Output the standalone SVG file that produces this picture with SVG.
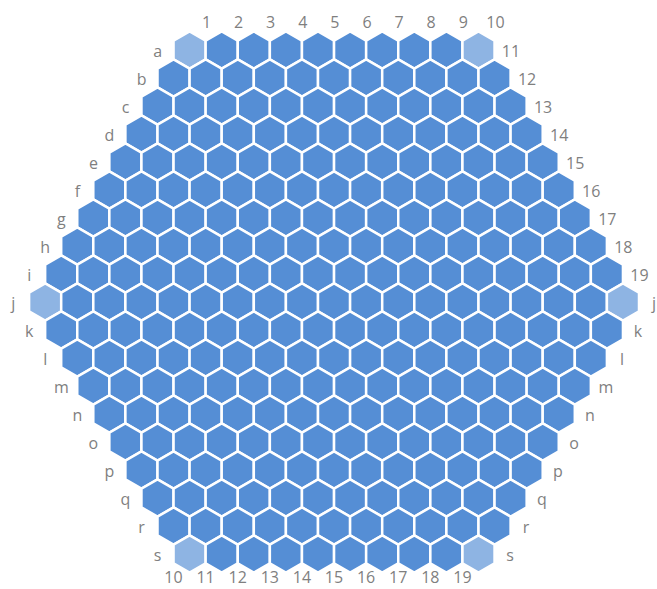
<svg xmlns="http://www.w3.org/2000/svg" width="657" height="589" viewBox="0 0 657 589">
<style>
.h{fill:#558ED5;stroke:#fff;stroke-width:2.5}
.c{fill:#8EB4E3}
text{font-family:"Open Sans","Liberation Sans",Arial,sans-serif;font-size:16px;fill:#7F7F7F;text-anchor:middle}
</style>
<defs><path id="h" d="M0,-18.67L16.05,-9.33L16.05,9.33L0,18.67L-16.05,9.33L-16.05,-9.33Z"/></defs>
<rect width="657" height="589" fill="#fff"/>
<g id="board">
<g id="row-a" transform="translate(189.6,50)"><use id="a1" class="h c" href="#h" x="0"/><use id="a2" class="h" href="#h" x="32.1"/><use id="a3" class="h" href="#h" x="64.2"/><use id="a4" class="h" href="#h" x="96.3"/><use id="a5" class="h" href="#h" x="128.4"/><use id="a6" class="h" href="#h" x="160.5"/><use id="a7" class="h" href="#h" x="192.6"/><use id="a8" class="h" href="#h" x="224.7"/><use id="a9" class="h" href="#h" x="256.8"/><use id="a10" class="h c" href="#h" x="288.9"/></g>
<g id="row-b" transform="translate(173.55,78)"><use id="b1" class="h" href="#h" x="0"/><use id="b2" class="h" href="#h" x="32.1"/><use id="b3" class="h" href="#h" x="64.2"/><use id="b4" class="h" href="#h" x="96.3"/><use id="b5" class="h" href="#h" x="128.4"/><use id="b6" class="h" href="#h" x="160.5"/><use id="b7" class="h" href="#h" x="192.6"/><use id="b8" class="h" href="#h" x="224.7"/><use id="b9" class="h" href="#h" x="256.8"/><use id="b10" class="h" href="#h" x="288.9"/><use id="b11" class="h" href="#h" x="321"/></g>
<g id="row-c" transform="translate(157.5,106)"><use id="c1" class="h" href="#h" x="0"/><use id="c2" class="h" href="#h" x="32.1"/><use id="c3" class="h" href="#h" x="64.2"/><use id="c4" class="h" href="#h" x="96.3"/><use id="c5" class="h" href="#h" x="128.4"/><use id="c6" class="h" href="#h" x="160.5"/><use id="c7" class="h" href="#h" x="192.6"/><use id="c8" class="h" href="#h" x="224.7"/><use id="c9" class="h" href="#h" x="256.8"/><use id="c10" class="h" href="#h" x="288.9"/><use id="c11" class="h" href="#h" x="321"/><use id="c12" class="h" href="#h" x="353.1"/></g>
<g id="row-d" transform="translate(141.45,134)"><use id="d1" class="h" href="#h" x="0"/><use id="d2" class="h" href="#h" x="32.1"/><use id="d3" class="h" href="#h" x="64.2"/><use id="d4" class="h" href="#h" x="96.3"/><use id="d5" class="h" href="#h" x="128.4"/><use id="d6" class="h" href="#h" x="160.5"/><use id="d7" class="h" href="#h" x="192.6"/><use id="d8" class="h" href="#h" x="224.7"/><use id="d9" class="h" href="#h" x="256.8"/><use id="d10" class="h" href="#h" x="288.9"/><use id="d11" class="h" href="#h" x="321"/><use id="d12" class="h" href="#h" x="353.1"/><use id="d13" class="h" href="#h" x="385.2"/></g>
<g id="row-e" transform="translate(125.4,162)"><use id="e1" class="h" href="#h" x="0"/><use id="e2" class="h" href="#h" x="32.1"/><use id="e3" class="h" href="#h" x="64.2"/><use id="e4" class="h" href="#h" x="96.3"/><use id="e5" class="h" href="#h" x="128.4"/><use id="e6" class="h" href="#h" x="160.5"/><use id="e7" class="h" href="#h" x="192.6"/><use id="e8" class="h" href="#h" x="224.7"/><use id="e9" class="h" href="#h" x="256.8"/><use id="e10" class="h" href="#h" x="288.9"/><use id="e11" class="h" href="#h" x="321"/><use id="e12" class="h" href="#h" x="353.1"/><use id="e13" class="h" href="#h" x="385.2"/><use id="e14" class="h" href="#h" x="417.3"/></g>
<g id="row-f" transform="translate(109.35,190)"><use id="f1" class="h" href="#h" x="0"/><use id="f2" class="h" href="#h" x="32.1"/><use id="f3" class="h" href="#h" x="64.2"/><use id="f4" class="h" href="#h" x="96.3"/><use id="f5" class="h" href="#h" x="128.4"/><use id="f6" class="h" href="#h" x="160.5"/><use id="f7" class="h" href="#h" x="192.6"/><use id="f8" class="h" href="#h" x="224.7"/><use id="f9" class="h" href="#h" x="256.8"/><use id="f10" class="h" href="#h" x="288.9"/><use id="f11" class="h" href="#h" x="321"/><use id="f12" class="h" href="#h" x="353.1"/><use id="f13" class="h" href="#h" x="385.2"/><use id="f14" class="h" href="#h" x="417.3"/><use id="f15" class="h" href="#h" x="449.4"/></g>
<g id="row-g" transform="translate(93.3,218)"><use id="g1" class="h" href="#h" x="0"/><use id="g2" class="h" href="#h" x="32.1"/><use id="g3" class="h" href="#h" x="64.2"/><use id="g4" class="h" href="#h" x="96.3"/><use id="g5" class="h" href="#h" x="128.4"/><use id="g6" class="h" href="#h" x="160.5"/><use id="g7" class="h" href="#h" x="192.6"/><use id="g8" class="h" href="#h" x="224.7"/><use id="g9" class="h" href="#h" x="256.8"/><use id="g10" class="h" href="#h" x="288.9"/><use id="g11" class="h" href="#h" x="321"/><use id="g12" class="h" href="#h" x="353.1"/><use id="g13" class="h" href="#h" x="385.2"/><use id="g14" class="h" href="#h" x="417.3"/><use id="g15" class="h" href="#h" x="449.4"/><use id="g16" class="h" href="#h" x="481.5"/></g>
<g id="row-h" transform="translate(77.25,246)"><use id="h1" class="h" href="#h" x="0"/><use id="h2" class="h" href="#h" x="32.1"/><use id="h3" class="h" href="#h" x="64.2"/><use id="h4" class="h" href="#h" x="96.3"/><use id="h5" class="h" href="#h" x="128.4"/><use id="h6" class="h" href="#h" x="160.5"/><use id="h7" class="h" href="#h" x="192.6"/><use id="h8" class="h" href="#h" x="224.7"/><use id="h9" class="h" href="#h" x="256.8"/><use id="h10" class="h" href="#h" x="288.9"/><use id="h11" class="h" href="#h" x="321"/><use id="h12" class="h" href="#h" x="353.1"/><use id="h13" class="h" href="#h" x="385.2"/><use id="h14" class="h" href="#h" x="417.3"/><use id="h15" class="h" href="#h" x="449.4"/><use id="h16" class="h" href="#h" x="481.5"/><use id="h17" class="h" href="#h" x="513.6"/></g>
<g id="row-i" transform="translate(61.2,274)"><use id="i1" class="h" href="#h" x="0"/><use id="i2" class="h" href="#h" x="32.1"/><use id="i3" class="h" href="#h" x="64.2"/><use id="i4" class="h" href="#h" x="96.3"/><use id="i5" class="h" href="#h" x="128.4"/><use id="i6" class="h" href="#h" x="160.5"/><use id="i7" class="h" href="#h" x="192.6"/><use id="i8" class="h" href="#h" x="224.7"/><use id="i9" class="h" href="#h" x="256.8"/><use id="i10" class="h" href="#h" x="288.9"/><use id="i11" class="h" href="#h" x="321"/><use id="i12" class="h" href="#h" x="353.1"/><use id="i13" class="h" href="#h" x="385.2"/><use id="i14" class="h" href="#h" x="417.3"/><use id="i15" class="h" href="#h" x="449.4"/><use id="i16" class="h" href="#h" x="481.5"/><use id="i17" class="h" href="#h" x="513.6"/><use id="i18" class="h" href="#h" x="545.7"/></g>
<g id="row-j" transform="translate(45.15,302)"><use id="j1" class="h c" href="#h" x="0"/><use id="j2" class="h" href="#h" x="32.1"/><use id="j3" class="h" href="#h" x="64.2"/><use id="j4" class="h" href="#h" x="96.3"/><use id="j5" class="h" href="#h" x="128.4"/><use id="j6" class="h" href="#h" x="160.5"/><use id="j7" class="h" href="#h" x="192.6"/><use id="j8" class="h" href="#h" x="224.7"/><use id="j9" class="h" href="#h" x="256.8"/><use id="j10" class="h" href="#h" x="288.9"/><use id="j11" class="h" href="#h" x="321"/><use id="j12" class="h" href="#h" x="353.1"/><use id="j13" class="h" href="#h" x="385.2"/><use id="j14" class="h" href="#h" x="417.3"/><use id="j15" class="h" href="#h" x="449.4"/><use id="j16" class="h" href="#h" x="481.5"/><use id="j17" class="h" href="#h" x="513.6"/><use id="j18" class="h" href="#h" x="545.7"/><use id="j19" class="h c" href="#h" x="577.8"/></g>
<g id="row-k" transform="translate(61.2,330)"><use id="k2" class="h" href="#h" x="0"/><use id="k3" class="h" href="#h" x="32.1"/><use id="k4" class="h" href="#h" x="64.2"/><use id="k5" class="h" href="#h" x="96.3"/><use id="k6" class="h" href="#h" x="128.4"/><use id="k7" class="h" href="#h" x="160.5"/><use id="k8" class="h" href="#h" x="192.6"/><use id="k9" class="h" href="#h" x="224.7"/><use id="k10" class="h" href="#h" x="256.8"/><use id="k11" class="h" href="#h" x="288.9"/><use id="k12" class="h" href="#h" x="321"/><use id="k13" class="h" href="#h" x="353.1"/><use id="k14" class="h" href="#h" x="385.2"/><use id="k15" class="h" href="#h" x="417.3"/><use id="k16" class="h" href="#h" x="449.4"/><use id="k17" class="h" href="#h" x="481.5"/><use id="k18" class="h" href="#h" x="513.6"/><use id="k19" class="h" href="#h" x="545.7"/></g>
<g id="row-l" transform="translate(77.25,358)"><use id="l3" class="h" href="#h" x="0"/><use id="l4" class="h" href="#h" x="32.1"/><use id="l5" class="h" href="#h" x="64.2"/><use id="l6" class="h" href="#h" x="96.3"/><use id="l7" class="h" href="#h" x="128.4"/><use id="l8" class="h" href="#h" x="160.5"/><use id="l9" class="h" href="#h" x="192.6"/><use id="l10" class="h" href="#h" x="224.7"/><use id="l11" class="h" href="#h" x="256.8"/><use id="l12" class="h" href="#h" x="288.9"/><use id="l13" class="h" href="#h" x="321"/><use id="l14" class="h" href="#h" x="353.1"/><use id="l15" class="h" href="#h" x="385.2"/><use id="l16" class="h" href="#h" x="417.3"/><use id="l17" class="h" href="#h" x="449.4"/><use id="l18" class="h" href="#h" x="481.5"/><use id="l19" class="h" href="#h" x="513.6"/></g>
<g id="row-m" transform="translate(93.3,386)"><use id="m4" class="h" href="#h" x="0"/><use id="m5" class="h" href="#h" x="32.1"/><use id="m6" class="h" href="#h" x="64.2"/><use id="m7" class="h" href="#h" x="96.3"/><use id="m8" class="h" href="#h" x="128.4"/><use id="m9" class="h" href="#h" x="160.5"/><use id="m10" class="h" href="#h" x="192.6"/><use id="m11" class="h" href="#h" x="224.7"/><use id="m12" class="h" href="#h" x="256.8"/><use id="m13" class="h" href="#h" x="288.9"/><use id="m14" class="h" href="#h" x="321"/><use id="m15" class="h" href="#h" x="353.1"/><use id="m16" class="h" href="#h" x="385.2"/><use id="m17" class="h" href="#h" x="417.3"/><use id="m18" class="h" href="#h" x="449.4"/><use id="m19" class="h" href="#h" x="481.5"/></g>
<g id="row-n" transform="translate(109.35,414)"><use id="n5" class="h" href="#h" x="0"/><use id="n6" class="h" href="#h" x="32.1"/><use id="n7" class="h" href="#h" x="64.2"/><use id="n8" class="h" href="#h" x="96.3"/><use id="n9" class="h" href="#h" x="128.4"/><use id="n10" class="h" href="#h" x="160.5"/><use id="n11" class="h" href="#h" x="192.6"/><use id="n12" class="h" href="#h" x="224.7"/><use id="n13" class="h" href="#h" x="256.8"/><use id="n14" class="h" href="#h" x="288.9"/><use id="n15" class="h" href="#h" x="321"/><use id="n16" class="h" href="#h" x="353.1"/><use id="n17" class="h" href="#h" x="385.2"/><use id="n18" class="h" href="#h" x="417.3"/><use id="n19" class="h" href="#h" x="449.4"/></g>
<g id="row-o" transform="translate(125.4,442)"><use id="o6" class="h" href="#h" x="0"/><use id="o7" class="h" href="#h" x="32.1"/><use id="o8" class="h" href="#h" x="64.2"/><use id="o9" class="h" href="#h" x="96.3"/><use id="o10" class="h" href="#h" x="128.4"/><use id="o11" class="h" href="#h" x="160.5"/><use id="o12" class="h" href="#h" x="192.6"/><use id="o13" class="h" href="#h" x="224.7"/><use id="o14" class="h" href="#h" x="256.8"/><use id="o15" class="h" href="#h" x="288.9"/><use id="o16" class="h" href="#h" x="321"/><use id="o17" class="h" href="#h" x="353.1"/><use id="o18" class="h" href="#h" x="385.2"/><use id="o19" class="h" href="#h" x="417.3"/></g>
<g id="row-p" transform="translate(141.45,470)"><use id="p7" class="h" href="#h" x="0"/><use id="p8" class="h" href="#h" x="32.1"/><use id="p9" class="h" href="#h" x="64.2"/><use id="p10" class="h" href="#h" x="96.3"/><use id="p11" class="h" href="#h" x="128.4"/><use id="p12" class="h" href="#h" x="160.5"/><use id="p13" class="h" href="#h" x="192.6"/><use id="p14" class="h" href="#h" x="224.7"/><use id="p15" class="h" href="#h" x="256.8"/><use id="p16" class="h" href="#h" x="288.9"/><use id="p17" class="h" href="#h" x="321"/><use id="p18" class="h" href="#h" x="353.1"/><use id="p19" class="h" href="#h" x="385.2"/></g>
<g id="row-q" transform="translate(157.5,498)"><use id="q8" class="h" href="#h" x="0"/><use id="q9" class="h" href="#h" x="32.1"/><use id="q10" class="h" href="#h" x="64.2"/><use id="q11" class="h" href="#h" x="96.3"/><use id="q12" class="h" href="#h" x="128.4"/><use id="q13" class="h" href="#h" x="160.5"/><use id="q14" class="h" href="#h" x="192.6"/><use id="q15" class="h" href="#h" x="224.7"/><use id="q16" class="h" href="#h" x="256.8"/><use id="q17" class="h" href="#h" x="288.9"/><use id="q18" class="h" href="#h" x="321"/><use id="q19" class="h" href="#h" x="353.1"/></g>
<g id="row-r" transform="translate(173.55,526)"><use id="r9" class="h" href="#h" x="0"/><use id="r10" class="h" href="#h" x="32.1"/><use id="r11" class="h" href="#h" x="64.2"/><use id="r12" class="h" href="#h" x="96.3"/><use id="r13" class="h" href="#h" x="128.4"/><use id="r14" class="h" href="#h" x="160.5"/><use id="r15" class="h" href="#h" x="192.6"/><use id="r16" class="h" href="#h" x="224.7"/><use id="r17" class="h" href="#h" x="256.8"/><use id="r18" class="h" href="#h" x="288.9"/><use id="r19" class="h" href="#h" x="321"/></g>
<g id="row-s" transform="translate(189.6,554)"><use id="s10" class="h c" href="#h" x="0"/><use id="s11" class="h" href="#h" x="32.1"/><use id="s12" class="h" href="#h" x="64.2"/><use id="s13" class="h" href="#h" x="96.3"/><use id="s14" class="h" href="#h" x="128.4"/><use id="s15" class="h" href="#h" x="160.5"/><use id="s16" class="h" href="#h" x="192.6"/><use id="s17" class="h" href="#h" x="224.7"/><use id="s18" class="h" href="#h" x="256.8"/><use id="s19" class="h c" href="#h" x="288.9"/></g>
</g>
<g id="labels-top">
<text x="206.5" y="28">1</text><text x="238.6" y="28">2</text><text x="270.7" y="28">3</text><text x="302.8" y="28">4</text><text x="334.9" y="28">5</text><text x="367" y="28">6</text><text x="399.1" y="28">7</text><text x="431.2" y="28">8</text><text x="463.3" y="28">9</text><text x="495.4" y="28">10</text>
</g>
<g id="labels-right-num">
<text x="511" y="57">11</text><text x="527.05" y="85">12</text><text x="543.1" y="113">13</text><text x="559.15" y="141">14</text><text x="575.2" y="169">15</text><text x="591.25" y="197">16</text><text x="607.3" y="225">17</text><text x="623.35" y="253">18</text><text x="639.4" y="281">19</text>
</g>
<g id="labels-left">
<text x="157.6" y="57">a</text><text x="141.55" y="85">b</text><text x="125.5" y="113">c</text><text x="109.45" y="141">d</text><text x="93.4" y="169">e</text><text x="77.35" y="197">f</text><text x="61.3" y="225">g</text><text x="45.25" y="253">h</text><text x="29.2" y="281">i</text><text x="13.15" y="309">j</text><text x="29.2" y="337">k</text><text x="45.25" y="365">l</text><text x="61.3" y="393">m</text><text x="77.35" y="421">n</text><text x="93.4" y="449">o</text><text x="109.45" y="477">p</text><text x="125.5" y="505">q</text><text x="141.55" y="533">r</text><text x="157.6" y="561">s</text>
</g>
<g id="labels-right">
<text x="654" y="309">j</text><text x="638" y="337">k</text><text x="622" y="365">l</text><text x="606" y="393">m</text><text x="590" y="421">n</text><text x="574" y="449">o</text><text x="558" y="477">p</text><text x="542" y="505">q</text><text x="526" y="533">r</text><text x="510" y="561">s</text>
</g>
<g id="labels-bottom">
<text x="173.5" y="583">10</text><text x="205.6" y="583">11</text><text x="237.7" y="583">12</text><text x="269.8" y="583">13</text><text x="301.9" y="583">14</text><text x="334" y="583">15</text><text x="366.1" y="583">16</text><text x="398.2" y="583">17</text><text x="430.3" y="583">18</text><text x="462.4" y="583">19</text>
</g>
</svg>
